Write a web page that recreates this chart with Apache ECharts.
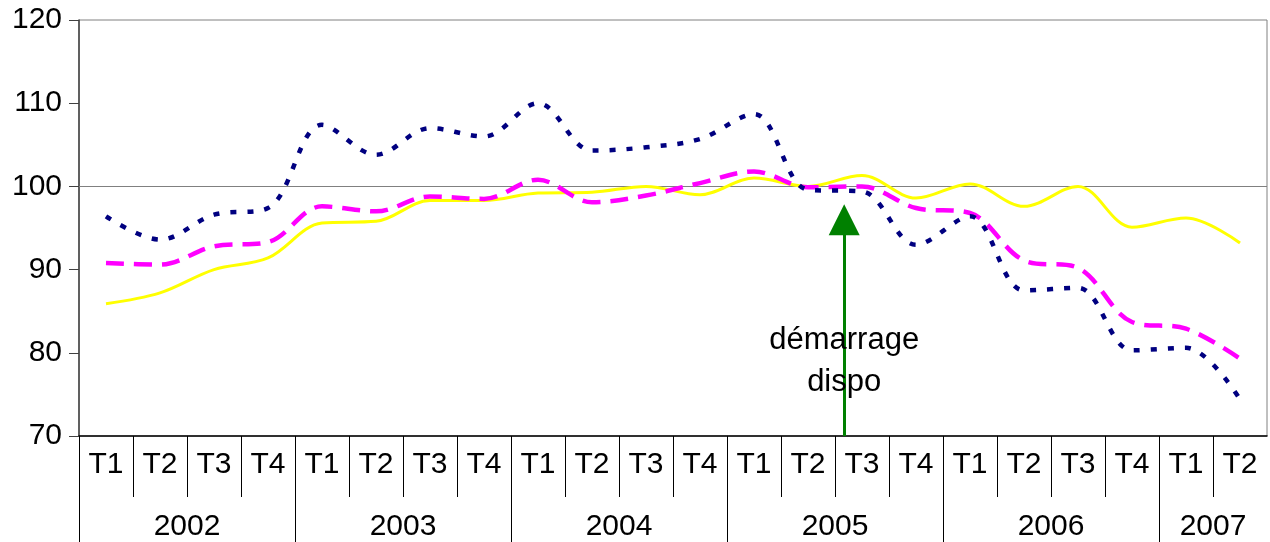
<!DOCTYPE html>
<html>
<head>
<meta charset="utf-8">
<script src="https://cdn.jsdelivr.net/npm/echarts@6/dist/echarts.min.js"></script>
<style>
html,body{margin:0;padding:0;background:#fff;}
#chart{width:1270px;height:542px;}
</style>
</head>
<body>
<div id="chart"></div>
<script>
// ---- data ----
var quarters = ['T1','T2','T3','T4','T1','T2','T3','T4','T1','T2','T3','T4','T1','T2','T3','T4','T1','T2','T3','T4','T1','T2'];
var years = ['2002','2003','2004','2005','2006','2007'];
var yearQuarterCounts = [4,4,4,4,4,2];
var yTicks = [70,80,90,100,110,120];
var seriesNavy    = [96.4,93.6,96.6,97.4,107.4,103.8,107.0,106.0,110.0,104.3,104.7,105.7,108.7,99.6,99.4,93.0,96.4,87.5,87.8,80.3,80.6,74.4];
var seriesMagenta = [90.8,90.6,92.8,93.3,97.6,97.0,98.8,98.5,100.8,98.1,98.9,100.4,101.8,99.9,100.0,97.4,96.8,91.1,90.2,83.7,82.9,79.3];
var seriesYellow  = [85.9,87.2,90.0,91.4,95.6,95.8,98.3,98.3,99.2,99.3,100.0,99.0,101.0,100.0,101.3,98.6,100.3,97.6,100.0,95.1,96.2,93.2];
var refLine = 100;
var arrowQuarterPos = 14.17;   // position on the quarter scale (0..22)
var arrowFrom = 70, arrowTo = 96.0;
var annotation = 'démarrage\ndispo';
var annotationValue = 79.0;

// derived helpers for the axes
var nQ = quarters.length;
var quarterTicks = [], quarterLabelPos = [], yearTicks = [], yearLabelPos = [], yearLabelText = {};
var acc = 0;
yearQuarterCounts.forEach(function(c, i){
  yearTicks.push(acc);
  yearLabelPos.push(acc + c/2);
  yearLabelText[acc + c/2] = years[i];
  acc += c;
});
for (var i = 1; i < nQ; i++) { if (yearTicks.indexOf(i) < 0) quarterTicks.push(i); }
for (var j = 0; j < nQ; j++) quarterLabelPos.push(j + 0.5);

var FONT = 'Liberation Sans, Arial, sans-serif';
var FS = 30;
var chart = echarts.init(document.getElementById('chart'), null, {renderer:'canvas'});
chart.setOption({
  animation: false,
  backgroundColor: '#ffffff',
  grid: {left:79, right:3, top:20, bottom:106, show:true, borderColor:'#808080', borderWidth:1, backgroundColor:'#ffffff'},
  xAxis: [
    {type:'category', data: quarters.map(function(q,i){return i+'';}), boundaryGap:true, show:false, position:'bottom'},
    {type:'value', min:0, max:nQ, position:'bottom', offset:0,
     axisLine:{show:true, lineStyle:{color:'#000', width:1.5}},
     axisTick:{show:true, customValues: quarterTicks, length:61, lineStyle:{color:'#000', width:1}},
     axisLabel:{show:true, customValues: quarterLabelPos, margin:14, fontSize:FS, color:'#000', fontFamily:FONT,
       formatter:function(v){ return quarters[Math.floor(v)]; }},
     splitLine:{show:false}},
    {type:'value', min:0, max:nQ, position:'bottom', offset:0,
     axisLine:{show:false},
     axisTick:{show:true, customValues: yearTicks, length:110, lineStyle:{color:'#000', width:1}},
     axisLabel:{show:true, customValues: yearLabelPos, margin:76, fontSize:FS, color:'#000', fontFamily:FONT,
       formatter:function(v){ return yearLabelText[v]; }},
     splitLine:{show:false}}
  ],
  yAxis: {type:'value', min:70, max:120, interval:10,
    axisLine:{show:true, lineStyle:{color:'#404040', width:1.5}},
    axisTick:{show:true, length:10, lineStyle:{color:'#404040'}},
    axisLabel:{margin:17, fontSize:FS, color:'#000', fontFamily:FONT},
    splitLine:{show:false}},
  series: [
    {type:'line', name:'yellow', data: seriesYellow, xAxisIndex:0, smooth:0.35, showSymbol:false,
     lineStyle:{color:'#FFFF00', width:3}, z:3,
     markLine:{silent:true, symbol:'none', label:{show:false}, lineStyle:{color:'#808080', width:1, type:'solid'},
       data:[{yAxis: refLine}], z:1}},
    {type:'line', name:'magenta', data: seriesMagenta, xAxisIndex:0, smooth:0.35, showSymbol:false,
     lineStyle:{color:'#FF00FF', width:4.5, type:[18,10]}, z:4},
    {type:'line', name:'navy', data: seriesNavy, xAxisIndex:0, smooth:0.35, showSymbol:false,
     lineStyle:{color:'#000080', width:4.5, type:[6,11]}, z:5},
    {type:'line', name:'arrow', xAxisIndex:1, data:[[arrowQuarterPos, arrowFrom]], showSymbol:false,
     lineStyle:{opacity:0}, z:6,
     markLine:{silent:true, symbol:['none','triangle'], symbolSize:[31,31], label:{show:false},
       lineStyle:{color:'#008000', width:3, type:'solid'},
       data:[[{coord:[arrowQuarterPos, arrowFrom]},{coord:[arrowQuarterPos, arrowTo]}]]},
     markPoint:{silent:true, symbol:'rect', symbolSize:1, itemStyle:{color:'rgba(0,0,0,0)'},
       label:{show:true, position:'inside', formatter: annotation, fontSize:31, lineHeight:42, color:'#000', fontFamily:FONT},
       data:[{coord:[arrowQuarterPos, annotationValue]}]}}
  ]
});
</script>
</body>
</html>
